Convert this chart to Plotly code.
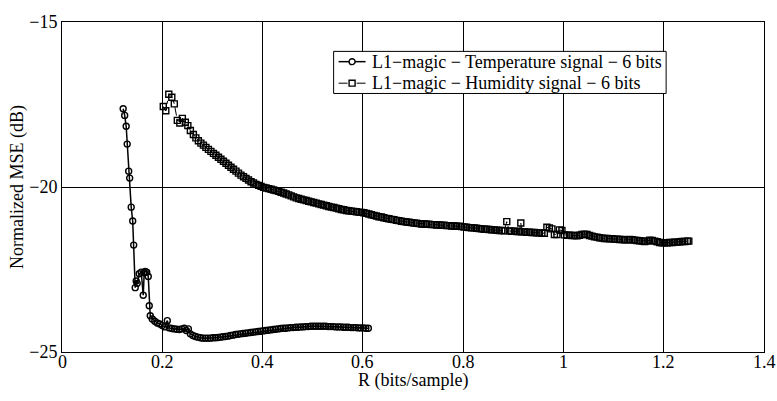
import plotly.graph_objects as go

# ---------------- data ----------------
TEMP_R = [
    0.122, 0.125, 0.128, 0.130, 0.133, 0.135, 0.138, 0.141, 0.143, 0.146,
    0.148, 0.150, 0.154, 0.158, 0.162, 0.164, 0.166, 0.169, 0.172, 0.174,
    0.176, 0.180, 0.185, 0.190, 0.195, 0.200, 0.205, 0.210, 0.214, 0.219,
    0.224, 0.229, 0.234, 0.239, 0.244, 0.248, 0.252, 0.256, 0.261, 0.266,
    0.271, 0.276, 0.281, 0.286, 0.291, 0.296, 0.301, 0.306, 0.311, 0.316,
    0.321, 0.326, 0.331, 0.336, 0.341, 0.346, 0.351, 0.356, 0.361, 0.366,
    0.371, 0.376, 0.381, 0.386, 0.391, 0.396, 0.401, 0.406, 0.411, 0.416,
    0.421, 0.426, 0.431, 0.436, 0.441, 0.446, 0.451, 0.456, 0.461, 0.466,
    0.471, 0.476, 0.481, 0.486, 0.491, 0.496, 0.501, 0.506, 0.511, 0.516,
    0.521, 0.526, 0.531, 0.536, 0.541, 0.546, 0.551, 0.556, 0.561, 0.566,
    0.571, 0.576, 0.581, 0.586, 0.591, 0.596, 0.601, 0.606, 0.611,
]
TEMP_MSE = [
    -17.63, -17.83, -18.16, -18.70, -19.52, -19.73, -20.61, -21.03, -21.76, -23.05,
    -22.85, -22.92, -22.63, -22.58, -23.28, -22.60, -22.56, -22.58, -22.71, -23.60,
    -23.90, -24.00, -24.07, -24.12, -24.15, -24.20, -24.24, -24.05, -24.27, -24.29,
    -24.30, -24.31, -24.32, -24.30, -24.28, -24.35, -24.30, -24.45, -24.50, -24.53,
    -24.55, -24.57, -24.58, -24.58, -24.58, -24.58, -24.57, -24.57, -24.56, -24.55,
    -24.54, -24.53, -24.52, -24.50, -24.49, -24.47, -24.46, -24.45, -24.44, -24.43,
    -24.42, -24.41, -24.40, -24.39, -24.38, -24.37, -24.36, -24.35, -24.34, -24.33,
    -24.32, -24.31, -24.30, -24.29, -24.28, -24.28, -24.27, -24.26, -24.26, -24.25,
    -24.25, -24.24, -24.24, -24.23, -24.23, -24.22, -24.22, -24.22, -24.22, -24.22,
    -24.22, -24.22, -24.23, -24.23, -24.23, -24.24, -24.24, -24.24, -24.25, -24.25,
    -24.25, -24.26, -24.26, -24.26, -24.27, -24.27, -24.27, -24.28, -24.28,
]

HUM_R = [
    0.202, 0.207, 0.213, 0.219, 0.224, 0.230, 0.235, 0.240, 0.246, 0.251,
    0.256, 0.262, 0.267, 0.272, 0.277, 0.282, 0.287, 0.292, 0.297, 0.302,
    0.307, 0.312, 0.317, 0.322, 0.327, 0.332, 0.337, 0.342, 0.347, 0.352,
    0.357, 0.362, 0.367, 0.372, 0.377, 0.382, 0.387, 0.392, 0.397, 0.402,
    0.407, 0.412, 0.417, 0.422, 0.427, 0.432, 0.437, 0.442, 0.447, 0.452,
    0.457, 0.462, 0.467, 0.472, 0.477, 0.482, 0.487, 0.492, 0.497, 0.502,
    0.507, 0.512, 0.517, 0.522, 0.527, 0.532, 0.537, 0.542, 0.547, 0.552,
    0.557, 0.562, 0.567, 0.572, 0.577, 0.582, 0.587, 0.592, 0.597, 0.602,
    0.607, 0.612, 0.617, 0.622, 0.627, 0.632, 0.637, 0.642, 0.647, 0.652,
    0.657, 0.662, 0.667, 0.672, 0.677, 0.682, 0.687, 0.692, 0.697, 0.702,
    0.707, 0.712, 0.717, 0.722, 0.727, 0.732, 0.737, 0.742, 0.747, 0.752,
    0.757, 0.762, 0.767, 0.772, 0.777, 0.782, 0.787, 0.792, 0.797, 0.802,
    0.807, 0.812, 0.817, 0.822, 0.827, 0.832, 0.837, 0.842, 0.847, 0.852,
    0.857, 0.862, 0.867, 0.872, 0.877, 0.882, 0.887, 0.892, 0.897, 0.902,
    0.907, 0.912, 0.915, 0.917, 0.922, 0.927, 0.932, 0.937, 0.942, 0.947,
    0.952, 0.957, 0.962, 0.967, 0.972, 0.977, 0.982, 0.987, 0.992, 0.997,
    1.002, 1.007, 1.012, 1.017, 1.022, 1.027, 1.032, 1.037, 1.042, 1.047,
    1.052, 1.057, 1.062, 1.067, 1.072, 1.077, 1.082, 1.087, 1.092, 1.097,
    1.102, 1.107, 1.112, 1.117, 1.122, 1.127, 1.132, 1.137, 1.142, 1.147,
    1.152, 1.157, 1.162, 1.167, 1.172, 1.177, 1.182, 1.187, 1.192, 1.197,
    1.202, 1.207, 1.212, 1.217, 1.222, 1.227, 1.232, 1.237, 1.242, 1.247,
    1.250,
]
HUM_MSE = [
    -17.56, -17.69, -17.19, -17.28, -17.48, -17.98, -18.06, -17.92, -18.04, -18.14,
    -18.29, -18.41, -18.51, -18.60, -18.67, -18.73, -18.80, -18.86, -18.92, -18.98,
    -19.04, -19.10, -19.16, -19.22, -19.28, -19.34, -19.40, -19.46, -19.52, -19.58,
    -19.64, -19.69, -19.74, -19.79, -19.84, -19.88, -19.92, -19.95, -19.98, -20.01,
    -20.03, -20.05, -20.07, -20.09, -20.11, -20.13, -20.16, -20.18, -20.21, -20.24,
    -20.27, -20.30, -20.33, -20.35, -20.37, -20.39, -20.41, -20.43, -20.45, -20.47,
    -20.49, -20.51, -20.53, -20.55, -20.57, -20.59, -20.61, -20.62, -20.64, -20.66,
    -20.68, -20.69, -20.71, -20.72, -20.73, -20.74, -20.75, -20.76, -20.77, -20.78,
    -20.80, -20.82, -20.84, -20.86, -20.88, -20.90, -20.91, -20.93, -20.95, -20.96,
    -20.98, -20.99, -21.01, -21.02, -21.04, -21.05, -21.06, -21.07, -21.08, -21.09,
    -21.10, -21.11, -21.12, -21.12, -21.13, -21.13, -21.14, -21.14, -21.15, -21.15,
    -21.16, -21.16, -21.17, -21.17, -21.18, -21.18, -21.19, -21.19, -21.20, -21.21,
    -21.22, -21.23, -21.24, -21.24, -21.25, -21.26, -21.27, -21.28, -21.28, -21.29,
    -21.30, -21.30, -21.31, -21.32, -21.32, -21.33, -21.05, -21.33, -21.34, -21.34,
    -21.35, -21.35, -21.09, -21.36, -21.36, -21.37, -21.37, -21.38, -21.38, -21.39,
    -21.39, -21.40, -21.40, -21.22, -21.24, -21.27, -21.44, -21.44, -21.30, -21.32,
    -21.45, -21.46, -21.46, -21.47, -21.47, -21.48, -21.46, -21.44, -21.43, -21.44,
    -21.47, -21.49, -21.51, -21.52, -21.54, -21.55, -21.56, -21.56, -21.57, -21.57,
    -21.58, -21.58, -21.59, -21.59, -21.60, -21.60, -21.59, -21.60, -21.61, -21.62,
    -21.63, -21.64, -21.65, -21.64, -21.61, -21.62, -21.64, -21.66, -21.68, -21.69,
    -21.69, -21.69, -21.68, -21.68, -21.67, -21.67, -21.66, -21.65, -21.65, -21.64,
    -21.64,
]

X_TICKS = [0, 0.2, 0.4, 0.6, 0.8, 1.0, 1.2, 1.4]
X_TICK_TEXT = ["0", "0.2", "0.4", "0.6", "0.8", "1", "1.2", "1.4"]
Y_TICKS = [-25, -20, -15]
Y_TICK_TEXT = ["\u221225", "\u221220", "\u221215"]

SERIES_NAMES = [
    "L1\u2212magic \u2212 Temperature signal \u2212 6 bits",
    "L1\u2212magic \u2212 Humidity signal \u2212 6 bits",
]
X_TITLE = "R (bits/sample)"
Y_TITLE = "Normalized MSE (dB)"

FONT = "Liberation Serif, Times New Roman, serif"
FS = 18
W, H = 777, 401
ML, MR, MT, MB = 62, 12, 15, 49
PW, PH = W - ML - MR, H - MT - MB


def px(x):
    return (x - ML) / PW


def py(y):
    return (H - MB - y) / PH


fig = go.Figure()
fig.add_trace(go.Scatter(
    x=TEMP_R, y=TEMP_MSE, mode="lines+markers", name=SERIES_NAMES[0],
    line=dict(color="black", width=1.5),
    marker=dict(symbol="circle-open", size=6, color="black",
                line=dict(color="black", width=1.4)),
    showlegend=False,
))
fig.add_trace(go.Scatter(
    x=HUM_R, y=HUM_MSE, mode="lines+markers", name=SERIES_NAMES[1],
    line=dict(color="black", width=1, dash="dashdot"),
    marker=dict(symbol="square-open", size=6, color="black",
                line=dict(color="black", width=1.4)),
    showlegend=False,
))

# ---- compact MATLAB-style legend (box, samples, labels) ----
LEG_X0, LEG_X1, LEG_Y0, LEG_Y1 = 334, 667, 45, 88
ROW_Y = [55.5, 77.5]
shapes = [dict(type="rect", xref="paper", yref="paper", layer="above",
               x0=px(LEG_X0), x1=px(LEG_X1), y0=py(LEG_Y1), y1=py(LEG_Y0),
               fillcolor="white", line=dict(color="black", width=1))]
annotations = []
dashes = ["solid", "dashdot"]
for i, name in enumerate(SERIES_NAMES):
    ry = ROW_Y[i]
    shapes.append(dict(type="line", xref="paper", yref="paper", layer="above",
                       x0=px(339), x1=px(366), y0=py(ry), y1=py(ry),
                       line=dict(color="black", width=1.5 if i == 0 else 1,
                                 dash=dashes[i])))
    shapes.append(dict(type="circle" if i == 0 else "rect",
                       xref="paper", yref="paper", layer="above",
                       x0=px(349.5), x1=px(355.5), y0=py(ry + 3), y1=py(ry - 3),
                       fillcolor="white", line=dict(color="black", width=1.4)))
    annotations.append(dict(xref="paper", yref="paper", x=px(370), y=py(ry),
                            xanchor="left", yanchor="middle", showarrow=False,
                            text=name, font=dict(family=FONT, size=FS, color="black")))

# x tick labels placed tight under the axis (MATLAB style), on the x scale
for v, t in zip(X_TICKS, X_TICK_TEXT):
    annotations.append(dict(xref="x", yref="paper", x=v, y=0, yshift=-10,
                            xanchor="center", yanchor="middle", showarrow=False,
                            text=t, font=dict(family=FONT, size=FS, color="black")))

annotations.append(dict(xref="paper", yref="paper", x=0.5, y=0, yshift=-28,
                        xanchor="center", yanchor="middle", showarrow=False,
                        text=X_TITLE, font=dict(family=FONT, size=FS, color="black")))

axis_common = dict(
    showline=True, linecolor="black", linewidth=1, mirror="ticks",
    ticks="inside", ticklen=4, tickcolor="black",
    showgrid=True, gridcolor="black", gridwidth=1,
    zeroline=False,
    tickfont=dict(family=FONT, size=FS, color="black"),
)

fig.update_layout(
    width=W, height=H,
    margin=dict(l=ML, r=MR, t=MT, b=MB),
    paper_bgcolor="white", plot_bgcolor="white",
    font=dict(family=FONT, size=FS, color="black"),
    showlegend=False,
    shapes=shapes,
    annotations=annotations,
    xaxis=dict(
        range=[0, 1.4], tickvals=X_TICKS, showticklabels=False,
        **axis_common,
    ),
    yaxis=dict(
        range=[-25, -15], tickvals=Y_TICKS, ticktext=Y_TICK_TEXT,
        title=dict(text=Y_TITLE, standoff=0,
                   font=dict(family=FONT, size=FS, color="black")),
        **axis_common,
    ),
)

fig.write_html("out.html")
